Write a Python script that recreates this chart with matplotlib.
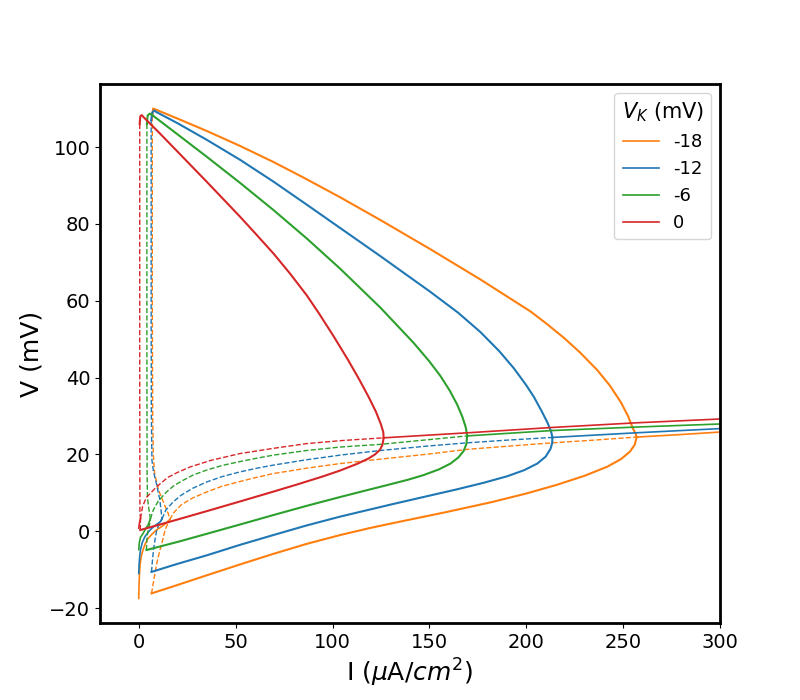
import matplotlib
matplotlib.use("Agg")
import matplotlib.pyplot as plt

# V_K values and colours
vk_labels = ["-18", "-12", "-6", "0"]
vk_colors = ["tab:orange", "tab:blue", "tab:green", "tab:red"]

# ---------------- V_K = -18 (orange) ----------------
o_eq_lo_I = [0, 0.2, 0.6, 1.3, 2.2, 3.4, 4.8, 7.0, 9.1, 11.5, 13.4, 16.0]
o_eq_lo_V = [-17.5, -13.0, -9.0, -6.5, -4.9, -3.2, -1.9, -0.7, 0.3, 1.1, 1.8, 3.0]
o_eq_un_I = [16.0, 18.0, 22.0, 28.0, 35.0, 43.0, 52.0, 60.0, 69.5, 86.7, 104.0, 120.0, 135.0, 150.0, 169.5, 190.0, 213.5, 235.0, 257.0]
o_eq_un_V = [3.0, 4.8, 6.9, 8.7, 10.2, 11.7, 12.9, 13.9, 15.0, 16.4, 17.6, 18.5, 19.3, 20.1, 21.3, 22.1, 23.0, 23.7, 24.5]
o_eq_hi_I = [257.0, 278.0, 300.0]
o_eq_hi_V = [24.5, 25.1, 25.8]
o_pmax_I = [7.0, 7.4, 9.0, 20.0, 35.0, 52.2, 69.5, 86.7, 104.0, 124.7, 150.5, 176.4, 202.2, 211.0, 219.5, 228.0, 236.7, 243.0, 248.8, 252.5, 255.0, 256.5, 257.0]
o_pmax_V = [108.0, 110.0, 109.7, 107.4, 104.2, 100.3, 96.1, 91.6, 86.9, 81.0, 73.4, 65.5, 57.2, 53.8, 50.3, 46.4, 41.9, 38.0, 33.6, 30.0, 26.8, 25.3, 24.5]
o_pmin_I = [6.6, 20.0, 35.0, 52.0, 69.5, 86.7, 104.0, 120.0, 135.0, 158.0, 181.6, 200.0, 216.0, 230.0, 241.9, 249.0, 253.5, 256.0, 257.0]
o_pmin_V = [-16.2, -14.0, -11.5, -8.7, -5.9, -3.3, -1.0, 0.9, 2.5, 4.9, 7.5, 9.8, 12.1, 14.4, 16.8, 18.8, 20.7, 22.5, 24.5]
o_umax_I = [7.0, 7.0, 7.2, 7.5, 8.2, 10.2, 12.0, 13.6, 15.3, 16.0]
o_umax_V = [108.0, 60.0, 30.0, 20.0, 15.0, 10.7, 8.5, 6.5, 4.5, 3.0]
o_umin_I = [6.6, 8.0, 9.3, 10.6, 11.9, 13.6, 15.0, 16.0]
o_umin_V = [-16.2, -12.0, -8.4, -5.6, -3.2, 0.3, 2.0, 3.0]

# ---------------- V_K = -12 (blue) ----------------
b_eq_lo_I = [0, 0.2, 0.5, 0.9, 1.8, 3.1, 4.8, 6.6, 8.8, 11.0, 12.0]
b_eq_lo_V = [-11.0, -8.5, -6.5, -4.9, -3.0, -1.5, -0.3, 0.7, 1.6, 2.4, 3.2]
b_eq_un_I = [12.0, 14.0, 17.7, 22.0, 28.0, 35.0, 43.0, 52.0, 60.0, 69.5, 86.7, 104.0, 124.7, 150.0, 169.5, 190.0, 213.5]
b_eq_un_V = [3.2, 5.5, 7.6, 9.4, 11.2, 12.8, 14.2, 15.4, 16.3, 17.2, 18.6, 19.8, 21.0, 22.2, 23.0, 23.7, 24.4]
b_eq_hi_I = [213.5, 256.5, 300.0]
b_eq_hi_V = [24.4, 25.6, 26.7]
b_pmax_I = [6.4, 7.0, 8.0, 9.1, 20.0, 35.0, 52.2, 69.5, 86.7, 104.0, 124.7, 150.5, 165.0, 176.4, 186.0, 193.6, 200.0, 204.0, 208.0, 210.9, 212.8, 213.5]
b_pmax_V = [107.0, 109.0, 109.5, 109.1, 106.2, 101.9, 96.7, 91.0, 85.0, 78.9, 71.6, 62.3, 56.8, 51.8, 46.9, 42.4, 38.0, 34.9, 31.2, 28.3, 26.0, 24.4]
b_pmin_I = [6.6, 20.0, 35.0, 52.0, 69.5, 86.7, 104.0, 129.8, 147.0, 164.3, 178.0, 190.2, 199.0, 205.7, 210.0, 212.5, 213.4, 213.5]
b_pmin_V = [-10.6, -8.5, -6.3, -3.6, -1.0, 1.5, 3.8, 6.9, 8.9, 10.9, 12.6, 14.3, 15.9, 17.6, 19.4, 21.4, 23.0, 24.4]
b_umax_I = [6.4, 6.4, 6.5, 6.8, 7.6, 9.1, 10.9, 12.0]
b_umax_V = [107.0, 60.0, 30.0, 18.5, 15.5, 12.4, 8.1, 3.2]
b_umin_I = [6.6, 7.0, 7.6, 8.4, 9.3, 10.6, 12.0]
b_umin_V = [-10.6, -8.0, -4.9, -2.2, 0.3, 1.9, 3.2]

# ---------------- V_K = -6 (green) ----------------
g_eq_lo_I = [0, 0.3, 0.9, 2.2, 3.5, 4.8, 6.0]
g_eq_lo_V = [-4.8, -3.0, -1.6, -0.6, 0.6, 1.6, 3.2]
g_eq_un_I = [6.0, 7.5, 10.0, 14.3, 18.0, 22.0, 28.0, 35.0, 43.0, 52.0, 60.0, 69.5, 86.7, 104.0, 124.7, 145.0, 169.5]
g_eq_un_V = [3.2, 5.5, 7.8, 10.2, 11.8, 13.0, 14.6, 15.9, 17.1, 18.1, 18.9, 19.8, 21.0, 21.9, 22.6, 23.6, 24.8]
g_eq_hi_I = [169.5, 213.5, 256.5, 300.0]
g_eq_hi_V = [24.8, 26.2, 27.1, 27.9]
g_pmax_I = [4.2, 4.6, 5.7, 7.0, 20.0, 35.0, 52.2, 69.5, 86.7, 104.0, 124.7, 141.9, 150.0, 155.7, 160.5, 164.3, 167.0, 168.8, 169.5]
g_pmax_V = [106.0, 108.2, 108.7, 108.3, 103.3, 97.5, 90.7, 83.6, 76.2, 68.3, 58.2, 49.0, 44.2, 40.4, 36.6, 33.0, 29.8, 27.0, 24.8]
g_pmin_I = [4.0, 20.0, 35.0, 52.0, 69.5, 86.7, 104.0, 118.0, 129.8, 139.0, 147.0, 155.0, 160.9, 165.0, 167.7, 169.1, 169.5]
g_pmin_V = [-4.9, -2.8, -0.7, 1.7, 4.2, 6.6, 8.9, 10.7, 12.2, 13.4, 14.6, 16.1, 17.6, 19.2, 20.9, 22.7, 24.8]
g_umax_I = [4.2, 4.2, 4.3, 4.5, 5.0, 5.6, 6.0]
g_umax_V = [106.0, 50.0, 15.0, 9.0, 6.5, 4.5, 3.2]
g_umin_I = [4.0, 4.1, 4.3, 4.9, 5.7, 6.0]
g_umin_V = [-4.9, -3.2, -1.5, 0.5, 2.0, 3.2]

# ---------------- V_K = 0 (red) ----------------
r_eq_lo_I = [0, 0.4, 0.9]
r_eq_lo_V = [0.8, 2.2, 3.3]
r_eq_un_I = [0.9, 2.0, 4.0, 9.1, 15.0, 20.0, 26.4, 37.0, 52.2, 70.0, 86.7, 105.0, 126.4]
r_eq_un_V = [3.3, 6.5, 8.8, 11.5, 14.0, 15.3, 16.7, 18.4, 20.2, 21.6, 22.8, 23.6, 24.3]
r_eq_hi_I = [126.4, 169.5, 213.5, 256.5, 300.0]
r_eq_hi_V = [24.3, 25.6, 27.0, 28.2, 29.2]
r_pmax_I = [0.5, 0.8, 1.5, 3.0, 10.0, 17.7, 35.0, 52.2, 60.0, 69.5, 78.0, 86.7, 93.0, 100.5, 108.0, 114.0, 119.0, 122.5, 125.0, 126.2, 126.4]
r_pmax_V = [106.0, 108.0, 108.3, 107.5, 104.0, 100.0, 91.0, 81.9, 77.6, 72.3, 67.1, 61.4, 56.7, 50.8, 44.6, 39.3, 34.6, 31.0, 27.8, 25.8, 24.3]
r_pmin_I = [0.8, 17.7, 35.0, 52.0, 69.5, 82.0, 95.3, 104.0, 112.6, 118.5, 122.0, 124.5, 125.8, 126.4]
r_pmin_V = [0.3, 2.7, 5.2, 7.7, 10.3, 12.2, 14.3, 15.8, 17.5, 18.9, 20.0, 21.2, 22.5, 24.3]
r_umax_I = [0.5, 0.5, 0.6, 0.9]
r_umax_V = [106.0, 40.0, 5.0, 3.3]
r_umin_I = [0.8, 0.85, 0.9]
r_umin_V = [0.3, 1.8, 3.3]

curves = [
    (o_eq_lo_I, o_eq_lo_V, o_eq_un_I, o_eq_un_V, o_eq_hi_I, o_eq_hi_V,
     o_pmax_I, o_pmax_V, o_pmin_I, o_pmin_V, o_umax_I, o_umax_V, o_umin_I, o_umin_V),
    (b_eq_lo_I, b_eq_lo_V, b_eq_un_I, b_eq_un_V, b_eq_hi_I, b_eq_hi_V,
     b_pmax_I, b_pmax_V, b_pmin_I, b_pmin_V, b_umax_I, b_umax_V, b_umin_I, b_umin_V),
    (g_eq_lo_I, g_eq_lo_V, g_eq_un_I, g_eq_un_V, g_eq_hi_I, g_eq_hi_V,
     g_pmax_I, g_pmax_V, g_pmin_I, g_pmin_V, g_umax_I, g_umax_V, g_umin_I, g_umin_V),
    (r_eq_lo_I, r_eq_lo_V, r_eq_un_I, r_eq_un_V, r_eq_hi_I, r_eq_hi_V,
     r_pmax_I, r_pmax_V, r_pmin_I, r_pmin_V, r_umax_I, r_umax_V, r_umin_I, r_umin_V),
]

fig, ax = plt.subplots(figsize=(8, 7), dpi=100)

for (label, color, c) in zip(vk_labels, vk_colors, curves):
    (eqlI, eqlV, equI, equV, eqhI, eqhV, pxI, pxV, pnI, pnV, uxI, uxV, unI, unV) = c
    ax.plot(eqlI, eqlV, color=color, lw=1.2, solid_joinstyle="round")
    ax.plot(equI, equV, color=color, lw=1.0, ls="--")
    ax.plot(eqhI, eqhV, color=color, lw=1.2, label=label)
    ax.plot(pxI, pxV, color=color, lw=1.5, solid_joinstyle="round")
    ax.plot(pnI, pnV, color=color, lw=1.5, solid_joinstyle="round")
    ax.plot(uxI, uxV, color=color, lw=1.0, ls="--")
    ax.plot(unI, unV, color=color, lw=1.0, ls="--")

ax.set_xlim(-20, 300)
ax.set_ylim(-23.9, 116.4)
ax.set_xticks([0, 50, 100, 150, 200, 250, 300])
ax.set_yticks([-20, 0, 20, 40, 60, 80, 100])
ax.tick_params(labelsize=14)
for s in ax.spines.values():
    s.set_linewidth(2)
ax.set_xlabel(r"I ($\mu$A/$cm^2$)", fontsize=18)
ax.set_ylabel("V (mV)", fontsize=18)

handles, labels = ax.get_legend_handles_labels()
leg = ax.legend(handles, labels, title=r"$V_K$ (mV)", fontsize=13,
                title_fontsize=15, loc="upper right")

fig.savefig("out.png", dpi=100)
